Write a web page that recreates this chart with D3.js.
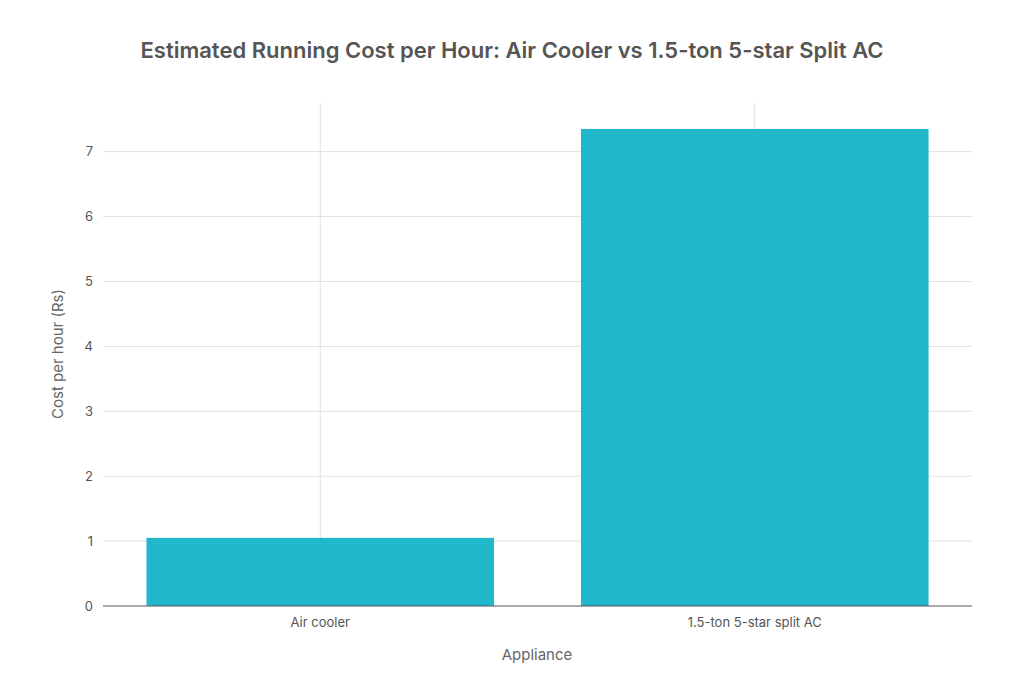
<!DOCTYPE html>
<html><head><meta charset="utf-8">
<script src="https://cdn.jsdelivr.net/npm/d3@7"></script>
<style>body{margin:0;background:#fff;font-family:Inter,"Open Sans",sans-serif}</style>
</head><body><svg id="c" width="1024" height="683"></svg>
<script>
const categories = ["Air cooler", "1.5-ton 5-star split AC"];
const costs = [1.05, 7.35];
const yTicks = [0, 1, 2, 3, 4, 5, 6, 7];

const svg = d3.select("#c");
const m = {l: 103, r: 972, t: 103, b: 606};

const x = d3.scaleBand().domain(categories).range([m.l, m.r]).paddingInner(0.2).paddingOuter(0.1);
const y = d3.scaleLinear().domain([0, 7.75]).range([m.b, m.t]);

// grid
svg.append("g").selectAll("line").data(yTicks.slice(1)).join("line")
  .attr("x1", m.l).attr("x2", m.r).attr("y1", d => y(d)).attr("y2", d => y(d))
  .attr("stroke", "#e0e0e0");
svg.append("g").selectAll("line").data(categories).join("line")
  .attr("x1", d => x(d) + x.bandwidth()/2).attr("x2", d => x(d) + x.bandwidth()/2)
  .attr("y1", m.t).attr("y2", m.b).attr("stroke", "#e0e0e0");

// bars
svg.append("g").selectAll("rect").data(costs).join("rect")
  .attr("x", (d, i) => x(categories[i])).attr("width", x.bandwidth())
  .attr("y", d => y(d)).attr("height", d => y(0) - y(d))
  .attr("fill", "#21b8cc");

// baseline
svg.append("line").attr("x1", m.l).attr("x2", m.r).attr("y1", m.b).attr("y2", m.b).attr("stroke", "#555");

// y axis labels
svg.append("g").selectAll("text").data(yTicks).join("text")
  .attr("x", 93).attr("y", d => y(d)).attr("dy", "0.35em").attr("text-anchor", "end")
  .attr("font-size", 13).attr("fill", "#555").text(d => d);

// x axis labels
svg.append("g").selectAll("text").data(categories).join("text")
  .attr("x", d => x(d) + x.bandwidth()/2).attr("y", 627).attr("text-anchor", "middle")
  .attr("font-size", 13).attr("fill", "#555").text(d => d);

svg.append("text").attr("x", 537).attr("y", 660).attr("text-anchor", "middle")
  .attr("font-size", 15).attr("fill", "#666").text("Appliance");
svg.append("text").attr("transform", "translate(63,354) rotate(-90)").attr("text-anchor", "middle")
  .attr("font-size", 15).attr("fill", "#666").text("Cost per hour (Rs)");

svg.append("text").attr("x", 512).attr("y", 58).attr("text-anchor", "middle")
  .attr("font-size", 22).attr("font-weight", 600).attr("fill", "#555")
  .text("Estimated Running Cost per Hour: Air Cooler vs 1.5-ton 5-star Split AC");
</script></body></html>
